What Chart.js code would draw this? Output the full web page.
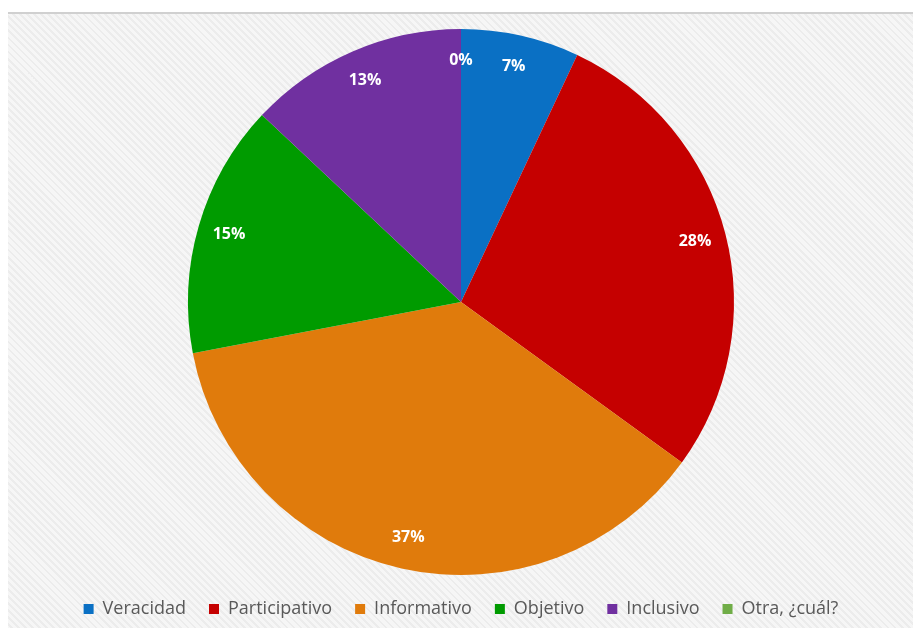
<!DOCTYPE html>
<html>
<head>
<meta charset="utf-8">
<script src="https://cdn.jsdelivr.net/npm/chart.js@4.4.1/dist/chart.umd.min.js"></script>
<style>
  html, body { margin: 0; padding: 0; background: #fff; }
  #frame {
    position: absolute; left: 8px; top: 12px; width: 905px; height: 616px;
    border-top: 2px solid #d0d0d0;
    background: repeating-linear-gradient(45deg, #f6f6f6 0px, #f6f6f6 3px, #ececec 3px, #ececec 5px);
  }
  #wrap { position: absolute; left: 0; top: 0; width: 913px; height: 628px; }
</style>
</head>
<body>
<div id="frame"></div>
<div id="wrap"><canvas id="pastel"></canvas></div>
<script>
var categorias = ["Veracidad", "Participativo", "Informativo", "Objetivo", "Inclusivo", "Otra, ¿cuál?"];
var valores = [7, 28, 37, 15, 13, 0];
var colores = ['#0a70c4', '#c50000', '#e07b0c', '#009b00', '#7030a0', '#70ad47'];

// etiquetas de porcentaje dentro de cada porcion
var etiquetas = {
  id: 'etiquetas',
  afterDatasetsDraw: function (chart) {
    var ctx = chart.ctx;
    var meta = chart.getDatasetMeta(0);
    var total = valores.reduce(function (a, b) { return a + b; }, 0);
    ctx.save();
    ctx.fillStyle = '#ffffff';
    ctx.font = 'bold 16px "Open Sans"';
    ctx.textAlign = 'center';
    ctx.textBaseline = 'middle';
    meta.data.forEach(function (arc, i) {
      var p = arc.getProps(['x', 'y', 'startAngle', 'endAngle', 'outerRadius'], true);
      var a = (p.startAngle + p.endAngle) / 2;
      var r = p.outerRadius * 0.885;
      var txt = Math.round(valores[i] / total * 100) + '%';
      ctx.fillText(txt, p.x + Math.cos(a) * r, p.y + Math.sin(a) * r);
    });
    ctx.restore();
  }
};

var ctx = document.getElementById("pastel");
var myPieChart = new Chart(ctx, {
  type: 'pie',
  data: {
    labels: categorias,
    datasets: [{
      data: valores,
      backgroundColor: colores,
      borderWidth: 0,
      radius: 273,
    }],
  },
  options: {
    responsive: true,
    maintainAspectRatio: false,
    animation: false,
    layout: { padding: { left: 9, top: 27, right: 0, bottom: 0 } },
    plugins: {
      tooltip: { enabled: false },
      legend: {
        position: 'bottom',
        labels: {
          boxWidth: 10,
          boxHeight: 10,
          padding: 23,
          color: '#595959',
          font: { family: '"Open Sans"', size: 18 },
        },
      },
    },
  },
  plugins: [etiquetas],
});
</script>
</body>
</html>
